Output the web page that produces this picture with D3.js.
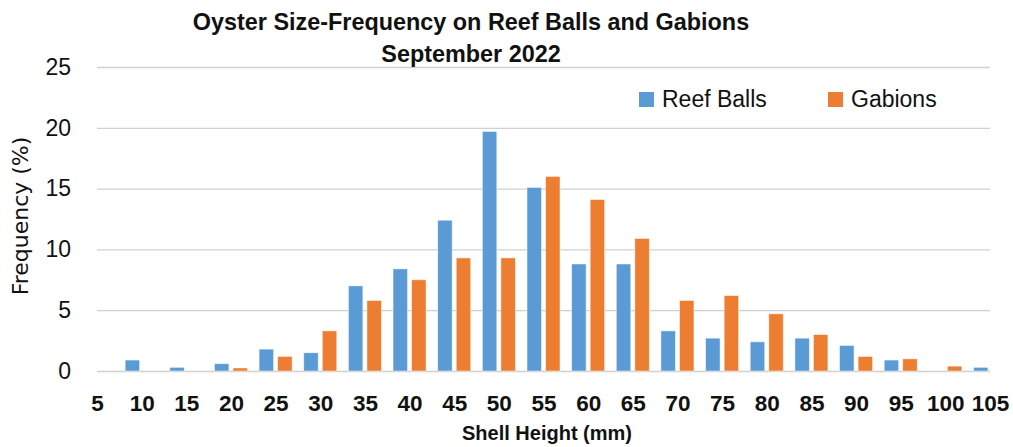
<!DOCTYPE html>
<html>
<head>
<meta charset="utf-8">
<script src="https://cdn.jsdelivr.net/npm/d3@7"></script>
<style>
  html, body { margin: 0; padding: 0; background: #fff; }
  svg { display: block; }
</style>
</head>
<body>
<svg id="chart" width="1013" height="447"></svg>
<script>
// Shell height classes (mm) and percentage of oysters in each class
const categories = [5, 10, 15, 20, 25, 30, 35, 40, 45, 50, 55, 60, 65, 70, 75, 80, 85, 90, 95, 100, 105];
const reefBalls  = [0, 0.9, 0.3, 0.6, 1.8, 1.5, 7.0, 8.4, 12.4, 19.7, 15.1, 8.8, 8.8, 3.3, 2.7, 2.4, 2.7, 2.1, 0.9, 0, 0.3];
const gabions    = [0, 0, 0, 0.25, 1.2, 3.3, 5.8, 7.5, 9.3, 9.3, 16.0, 14.1, 10.9, 5.8, 6.2, 4.7, 3.0, 1.2, 1.0, 0.4, 0];
const seriesNames = ["Reef Balls", "Gabions"];
const yTicks = [0, 5, 10, 15, 20, 25];

const colors = { "Reef Balls": "#5B9BD5", "Gabions": "#ED7D31" };
const regular = "'Liberation Sans', Arial, sans-serif";

const svg = d3.select("#chart");
const plot = { left: 97, right: 990, top: 67, bottom: 371 };

const x = d3.scalePoint().domain(categories).range([plot.left, plot.right]);
const xInner = d3.scaleBand().domain(seriesNames).range([-16.5, 16.5]).paddingInner(0.22);
const y = d3.scaleLinear().domain([0, 25]).range([plot.bottom, plot.top]);

// Horizontal gridlines
svg.append("g")
  .selectAll("line")
  .data(yTicks)
  .join("line")
  .attr("x1", plot.left).attr("x2", plot.right)
  .attr("y1", d => y(d) + 0.5).attr("y2", d => y(d) + 0.5)
  .attr("stroke", "#d0d0d0")
  .attr("stroke-width", 1.3);

// Y axis tick labels
const yAxis = svg.append("g")
  .attr("transform", `translate(${plot.left - 26},0)`)
  .call(d3.axisLeft(y).tickValues(yTicks).tickSize(0).tickPadding(0));
yAxis.select(".domain").remove();
yAxis.selectAll("text")
  .attr("font-family", regular)
  .attr("font-size", 23)
  .attr("fill", "#111");

// X axis tick labels
const xAxis = svg.append("g")
  .attr("transform", `translate(0,${plot.bottom})`)
  .call(d3.axisBottom(x).tickSize(0).tickPadding(24));
xAxis.select(".domain").remove();
xAxis.selectAll("text")
  .attr("font-family", regular)
  .attr("font-weight", "bold")
  .attr("font-size", 22.5)
  .attr("fill", "#111");

// Bars
const rows = categories.map((c, i) => ({ c, values: [
  { key: "Reef Balls", v: reefBalls[i] },
  { key: "Gabions", v: gabions[i] }
]}));

svg.append("defs").append("clipPath").attr("id", "plotClip")
  .append("rect")
  .attr("x", plot.left).attr("y", 0)
  .attr("width", plot.right - plot.left).attr("height", plot.bottom + 1);

svg.append("g")
  .attr("clip-path", "url(#plotClip)")
  .selectAll("g")
  .data(rows)
  .join("g")
  .attr("transform", d => `translate(${x(d.c)},0)`)
  .selectAll("rect")
  .data(d => d.values.filter(s => s.v > 0))
  .join("rect")
  .attr("x", s => xInner(s.key))
  .attr("width", xInner.bandwidth())
  .attr("y", s => y(s.v))
  .attr("height", s => y(0) - y(s.v))
  .attr("fill", s => colors[s.key])
  .attr("stroke", "#ffffff")
  .attr("stroke-opacity", 0.6)
  .attr("stroke-width", 0.8);

// Title
const title = svg.append("text")
  .attr("text-anchor", "middle")
  .attr("font-family", regular)
  .attr("font-weight", "bold")
  .attr("font-size", 23.4)
  .attr("fill", "#111");
title.append("tspan").attr("x", 471).attr("y", 30).text("Oyster Size-Frequency on Reef Balls and Gabions");
title.append("tspan").attr("x", 471).attr("y", 62).text("September 2022");

// Axis titles
svg.append("text")
  .attr("transform", "translate(28,216) rotate(-90)")
  .attr("text-anchor", "middle")
  .attr("font-family", "'DejaVu Sans', sans-serif")
  .attr("font-size", 22)
  .attr("fill", "#111")
  .text("Frequency (%)");

svg.append("text")
  .attr("x", 547).attr("y", 440)
  .attr("text-anchor", "middle")
  .attr("font-family", regular)
  .attr("font-weight", "bold")
  .attr("font-size", 20)
  .attr("fill", "#111")
  .text("Shell Height (mm)");

// Legend
const legendX = [639, 828];
const legend = svg.append("g")
  .selectAll("g")
  .data(seriesNames)
  .join("g")
  .attr("transform", (d, i) => `translate(${legendX[i]},92)`);
legend.append("rect")
  .attr("width", 15).attr("height", 15)
  .attr("fill", d => colors[d]);
legend.append("text")
  .attr("x", 23).attr("y", 15)
  .attr("font-family", regular)
  .attr("font-size", 23)
  .attr("fill", "#111")
  .text(d => d);
</script>
</body>
</html>
